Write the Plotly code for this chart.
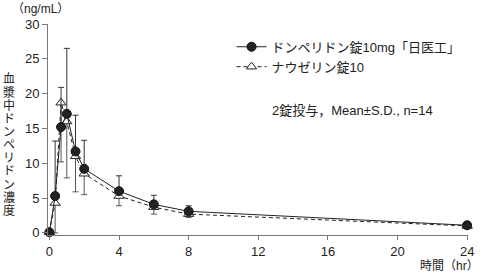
import plotly.graph_objects as go

# ---- data ----
times = [0, 0.33, 0.67, 1, 1.5, 2, 4, 6, 8, 24]
domperidone_mean = [0.1, 5.3, 15.2, 17.1, 11.7, 9.2, 6.0, 4.1, 3.1, 1.1]
domperidone_sd = [0, 7.9, 5.7, 9.4, 5.2, 4.1, 2.2, 1.3, 0.8, 0.3]
nauzelin_mean = [0.1, 4.3, 18.7, 16.0, 11.0, 8.5, 5.3, 3.7, 2.7, 1.0]
nauzelin_sd = [0, 4.3, 8.5, 8.1, 5.1, 3.0, 1.4, 1.0, 0.5, 0.2]
x_ticks = [0, 4, 8, 12, 16, 20, 24]
y_ticks = [0, 5, 10, 15, 20, 25, 30]
series_names = ["ドンペリドン錠10mg「日医工」", "ナウゼリン錠10"]
y_title = "血漿中ドンペリドン濃度"

FONT = "Liberation Sans, Arial, Noto Sans CJK JP, sans-serif"
TXT = "#222"

fig = go.Figure()
fig.add_trace(go.Scatter(
    x=times, y=nauzelin_mean, name=series_names[1], mode="lines+markers",
    line=dict(color="#222", width=1, dash="4px,3px"),
    marker=dict(symbol="triangle-up", size=9, color="white", line=dict(color="#222", width=1)),
    error_y=dict(type="data", symmetric=False, array=[0] * len(times), arrayminus=nauzelin_sd,
                 color="#555", thickness=1, width=3),
    cliponaxis=False,
))
fig.add_trace(go.Scatter(
    x=times, y=domperidone_mean, name=series_names[0], mode="lines+markers",
    line=dict(color="#222", width=1),
    marker=dict(symbol="circle", size=9, color="#222", line=dict(color="#111", width=1)),
    error_y=dict(type="data", symmetric=False, array=domperidone_sd, arrayminus=[0] * len(times),
                 color="#333", thickness=1, width=3),
    cliponaxis=False,
))

fig.update_layout(
    width=488, height=275,
    margin=dict(l=48, r=20, t=24, b=40),
    paper_bgcolor="white", plot_bgcolor="white",
    font=dict(family=FONT, size=13, color=TXT),
    showlegend=True,
    legend=dict(x=0.437, y=0.963, xanchor="left", yanchor="top", traceorder="reversed",
                bgcolor="rgba(0,0,0,0)", font=dict(size=13, color=TXT),
                itemwidth=30, tracegroupgap=0),
    xaxis=dict(range=[-0.08, 24.05], tickvals=x_ticks, ticktext=[str(v) for v in x_ticks],
               showgrid=False, zeroline=False, showline=True, linecolor="#777", linewidth=1,
               ticks="outside", ticklen=4, tickcolor="#777", tickfont=dict(size=13, color=TXT)),
    yaxis=dict(range=[-0.3, 30], tickvals=y_ticks, ticktext=[str(v) for v in y_ticks],
               showgrid=False, zeroline=False, showline=True, linecolor="#777", linewidth=1,
               ticks="outside", ticklen=5, tickcolor="#777", tickfont=dict(size=13, color=TXT)),
)

ann = []
ann.append(dict(text="（ng/mL）", xref="paper", yref="paper", x=-0.017, y=(235 - 9) / 211,
                xanchor="center", yanchor="middle", showarrow=False, font=dict(size=12, color=TXT)))
ann.append(dict(text="時間（hr）", xref="paper", yref="paper", x=1.03, y=(235 - 266) / 211,
                xanchor="right", yanchor="middle", showarrow=False, font=dict(size=12, color=TXT)))
ann.append(dict(text="2錠投与，Mean±S.D., n=14", xref="paper", yref="paper", x=0.529, y=0.592,
                xanchor="left", yanchor="middle", showarrow=False, font=dict(size=13, color=TXT)))
n = len(y_title)
top_px, bot_px = 79, 211
for i, ch in enumerate(y_title):
    py = top_px + (bot_px - top_px) * i / (n - 1)
    ann.append(dict(text=ch, xref="paper", yref="paper", x=(9 - 48) / 420, y=(235 - py) / 211,
                    xanchor="center", yanchor="middle", showarrow=False, font=dict(size=12, color=TXT)))
fig.update_layout(annotations=ann)

fig.write_html("out.html")
